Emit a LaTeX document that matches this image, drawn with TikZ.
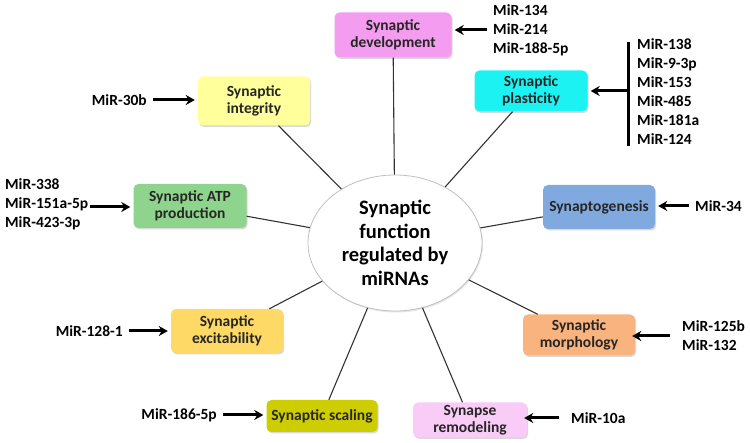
\documentclass[tikz,border=0pt]{standalone}
\usepackage{fontspec}
\setmainfont{Carlito}
\usetikzlibrary{arrows.meta,shadows,shapes.geometric}
\definecolor{devpink}{HTML}{F49CF0}
\definecolor{plascyan}{HTML}{1CF2F2}
\definecolor{integyellow}{HTML}{FFFF9C}
\definecolor{atpgreen}{HTML}{8FD48C}
\definecolor{genblue}{HTML}{80A9E0}
\definecolor{excitgold}{HTML}{FFD966}
\definecolor{morphorange}{HTML}{F8B37E}
\definecolor{scalolive}{HTML}{CDCD00}
\definecolor{remodpink}{HTML}{F9CBF7}
\tikzset{
    fnbox/.style={rounded corners=5pt, minimum width=112pt, minimum height=44pt,
        align=center, inner sep=1pt, text=black!85,
        font=\fontsize{15.5}{16.5}\selectfont\bfseries,
        drop shadow={shadow xshift=1.2pt, shadow yshift=-1.5pt, opacity=0.3}},
    mirlabel/.style={inner sep=2pt, align=left, font=\fontsize{15.5}{19}\selectfont\bfseries},
    mirarrow/.style={line width=3pt, -{Stealth[length=9pt,width=10pt]},
        shorten <=4pt, shorten >=3pt},
    spoke/.style={line width=1.1pt, draw=black!80},
}
\begin{document}
\begin{tikzpicture}[x=1pt, y=-1pt]
        \useasboundingbox (0, 0) rectangle (750, 443);
        \node[ellipse, minimum width=174pt, minimum height=136pt, inner sep=0pt,
            draw=black!25, line width=0.8pt, fill=white, align=center,
            font=\fontsize{20.5}{23.5}\selectfont\bfseries,
            drop shadow={shadow xshift=1pt, shadow yshift=-1.5pt, opacity=0.2}]
            (hub) at(395, 243){Synaptic\\function\\regulated by\\miRNAs};
        \node[fnbox, fill=devpink, minimum width=117pt, minimum height=45pt] (dev) at(393, 35){Synaptic\\development};
        \node[fnbox, fill=plascyan, minimum width=113pt, minimum height=41pt] (plas) at(531, 91){Synaptic\\plasticity};
        \node[fnbox, fill=integyellow, minimum height=49pt] (integ) at(254, 101){Synaptic\\integrity};
        \node[fnbox, fill=atpgreen, minimum width=113pt] (atp) at(190, 206){Synaptic ATP\\production};
        \node[fnbox, fill=genblue] (gen) at(599, 207){Synaptogenesis};
        \node[fnbox, fill=excitgold] (excit) at(227, 331){Synaptic\\excitability};
        \node[fnbox, fill=morphorange, minimum height=41pt] (morph) at(579, 335){Synaptic\\morphology};
        \node[fnbox, fill=scalolive, minimum width=111pt, minimum height=32pt] (scal) at(322, 416){Synaptic scaling};
        \node[fnbox, fill=remodpink, minimum width=114pt, minimum height=35pt] (remod) at(470, 420){Synapse\\remodeling};
        \foreach \b in {dev, plas, integ, atp, gen, excit, morph, scal, remod}
            \draw[spoke] (\b) -- (hub);
        \node[mirlabel, anchor=west] (mdev) at(491, 30){MiR-134\\MiR-214\\MiR-188-5p};
        \node[mirlabel, anchor=west] (mplas) at(635, 92){MiR-138\\MiR-9-3p\\MiR-153\\MiR-485\\MiR-181a\\MiR-124};
        \node[mirlabel, anchor=east] (mintg) at(149, 100){MiR-30b};
        \node[mirlabel, anchor=west] (matp) at(3, 204){MiR-338\\MiR-151a-5p\\MiR-423-3p};
        \node[mirlabel, anchor=west] (mgen) at(693, 206){MiR-34};
        \node[mirlabel, anchor=east] (mexc) at(125, 331){MiR-128-1};
        \node[mirlabel, anchor=west] (mmor) at(680, 336){MiR-125b\\MiR-132};
        \node[mirlabel, anchor=east] (mscl) at(219, 415){MiR-186-5p};
        \node[mirlabel, anchor=west] (mrem) at(569, 418){MiR-10a};
        \coordinate (bartop) at(628, 42);
        \coordinate (barbot) at(628, 146);
        \coordinate (barmid) at(628, 91);
        \draw[line width=3pt] (bartop) -- (barbot);
        \draw[mirarrow, shorten <=0pt] (barmid) -- (barmid -| plas.east);
        \draw[mirarrow] (mdev.west) -- (mdev.west -| dev.east);
        \draw[mirarrow] (mintg.east) -- (mintg.east -| integ.west);
        \draw[mirarrow, shorten <=0pt] ([yshift=-3pt]matp.east) -- ([yshift=-3pt]matp.east -| atp.west);
        \draw[mirarrow] (mgen.west) -- (mgen.west -| gen.east);
        \draw[mirarrow] (mexc.east) -- (mexc.east -| excit.west);
        \draw[mirarrow] ([xshift=-6pt]mmor.west) -- ([xshift=-6pt]mmor.west -| morph.east);
        \draw[mirarrow] (mscl.east) -- (mscl.east -| scal.west);
        \draw[mirarrow] ([xshift=-6pt]mrem.west) -- ([xshift=-6pt]mrem.west -| remod.east);
\end{tikzpicture}
\end{document}
